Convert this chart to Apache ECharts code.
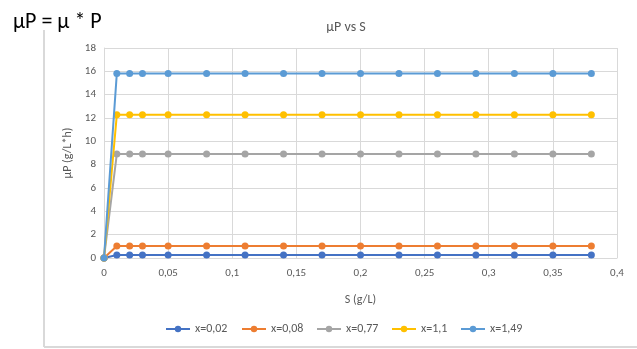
<!DOCTYPE html>
<html>
<head>
<meta charset="utf-8">
<script src="https://cdn.jsdelivr.net/npm/echarts@6/dist/echarts.min.js"></script>
<style>
  html, body { margin: 0; padding: 0; background: #fff; }
  #chart { width: 637px; height: 349px; }
</style>
</head>
<body>
<div id="chart"></div>
<script>
// Substrate concentrations S (g/L)
const sValues = [0, 0.01, 0.02, 0.03, 0.05, 0.08, 0.11, 0.14, 0.17, 0.2, 0.23, 0.26, 0.29, 0.32, 0.35, 0.38];

// Series names (biomass x)
const seriesNames = ['x=0,02', 'x=0,08', 'x=0,77', 'x=1,1', 'x=1,49'];

// μP values for each biomass level
const muP_002 = [0, 0.26, 0.26, 0.26, 0.26, 0.26, 0.26, 0.26, 0.26, 0.26, 0.26, 0.26, 0.26, 0.26, 0.26, 0.26];
const muP_008 = [0, 1.03, 1.03, 1.03, 1.03, 1.03, 1.03, 1.03, 1.03, 1.03, 1.03, 1.03, 1.03, 1.03, 1.03, 1.03];
const muP_077 = [0, 8.92, 8.92, 8.92, 8.92, 8.92, 8.92, 8.92, 8.92, 8.92, 8.92, 8.92, 8.92, 8.92, 8.92, 8.92];
const muP_11  = [0, 12.27, 12.27, 12.27, 12.27, 12.27, 12.27, 12.27, 12.27, 12.27, 12.27, 12.27, 12.27, 12.27, 12.27, 12.27];
const muP_149 = [0, 15.82, 15.82, 15.82, 15.82, 15.82, 15.82, 15.82, 15.82, 15.82, 15.82, 15.82, 15.82, 15.82, 15.82, 15.82];

const seriesValues = [muP_002, muP_008, muP_077, muP_11, muP_149];
const colors = ['#4472C4', '#ED7D31', '#A5A5A5', '#FFC000', '#5B9BD5'];

const chart = echarts.init(document.getElementById('chart'), null, { renderer: 'canvas' });

const comma = v => String(v).replace('.', ',');
const gridColor = '#d9d9d9';
const textColor = '#595959';
const font = 'Calibri, Carlito, "Liberation Sans", "Open Sans", sans-serif';

// Legend entries laid out one per component so each sits at its own x
const legendLeft = [165, 241, 316, 391, 460];

chart.setOption({
  animation: false,
  color: colors,
  textStyle: { fontFamily: font },
  title: [
    {
      text: 'μP = μ * P',
      left: 8, top: 6,
      textStyle: { fontSize: 22, fontWeight: 'normal', color: '#000', fontFamily: font }
    },
    {
      text: 'μP vs S',
      left: 341, top: 15, textAlign: 'center',
      textStyle: { fontSize: 14, fontWeight: 'normal', color: textColor, fontFamily: font }
    }
  ],
  graphic: [
    { type: 'line', shape: { x1: 44, y1: 30, x2: 44, y2: 347 }, style: { stroke: gridColor, lineWidth: 2 } },
    { type: 'line', shape: { x1: 44, y1: 347, x2: 637, y2: 347 }, style: { stroke: gridColor, lineWidth: 2 } }
  ],
  grid: { left: 104, right: 20, top: 48, bottom: 91, containLabel: false },
  xAxis: {
    type: 'value',
    min: 0, max: 0.4, interval: 0.05,
    name: 'S (g/L)',
    nameLocation: 'middle',
    nameGap: 36,
    nameTextStyle: { color: textColor, fontSize: 12, fontFamily: font },
    axisLine: { show: true, lineStyle: { color: gridColor } },
    axisTick: { show: false },
    axisLabel: { color: textColor, fontSize: 11, margin: 10, formatter: v => comma(+v.toFixed(2)) },
    splitLine: { show: true, lineStyle: { color: gridColor } }
  },
  yAxis: {
    type: 'value',
    min: 0, max: 18, interval: 2,
    name: 'μP (g/L*h)',
    nameLocation: 'middle',
    nameGap: 30,
    nameTextStyle: { color: textColor, fontSize: 12, fontFamily: font },
    axisLine: { show: true, lineStyle: { color: gridColor } },
    axisTick: { show: false },
    axisLabel: { color: textColor, fontSize: 11, margin: 8 },
    splitLine: { show: true, lineStyle: { color: gridColor } }
  },
  legend: seriesNames.map((name, i) => ({
    left: legendLeft[i],
    top: 323,
    itemWidth: 24,
    itemHeight: 8,
    padding: 0,
    textStyle: { color: textColor, fontSize: 12, fontFamily: font },
    data: [name]
  })),
  series: seriesNames.map((name, i) => ({
    name,
    type: 'line',
    data: sValues.map((s, j) => [s, seriesValues[i][j]]),
    symbol: 'circle',
    symbolSize: 7,
    lineStyle: { width: 2, color: colors[i] },
    itemStyle: { color: colors[i] },
    z: 2 + i
  }))
});
</script>
</body>
</html>
